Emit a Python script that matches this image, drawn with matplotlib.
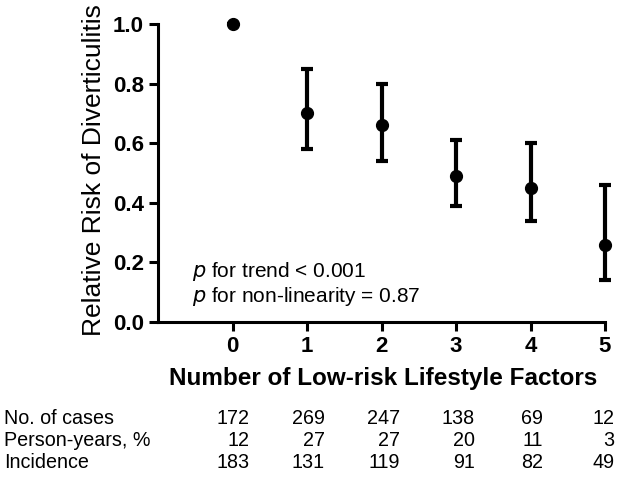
import numpy as np
import matplotlib
matplotlib.use("Agg")
import matplotlib.pyplot as plt
import matplotlib.transforms as mtransforms

plt.rcParams['font.family'] = ['Liberation Sans', 'DejaVu Sans']

# data
factors = [0, 1, 2, 3, 4, 5]
rr = [1.00, 0.70, 0.66, 0.49, 0.45, 0.26]
ci_low = [1.00, 0.58, 0.54, 0.39, 0.34, 0.14]
ci_high = [1.00, 0.85, 0.80, 0.61, 0.60, 0.46]

row_labels = ["No. of cases", "Person-years, %", "Incidence"]
cases = [172, 269, 247, 138, 69, 12]
person_years = [12, 27, 27, 20, 11, 3]
incidence = [183, 131, 119, 91, 82, 49]

# layout of the table under the plot
col_right = [0.23, 1.24, 2.25, 3.25, 4.17, 5.13]   # right edge of each column, data units
row_y = [1 - 419 / 480, 1 - 441 / 480, 1 - 463 / 480]  # figure fraction

fig = plt.figure(figsize=(6.21, 4.8), dpi=100)
ax = fig.add_axes([158 / 621, 1 - 322 / 480, 447 / 621, 298 / 480])

rr = np.array(rr)
yerr = np.array([rr - np.array(ci_low), np.array(ci_high) - rr])
ax.errorbar(factors, rr, yerr=yerr, fmt='o', color='black', markersize=8.5,
            elinewidth=3, capsize=4.5, capthick=3, clip_on=False, zorder=3)

ax.set_xlim(-1, 5)
ax.set_ylim(0, 1.0)
ax.set_xticks(factors)
ax.set_yticks([0.0, 0.2, 0.4, 0.6, 0.8, 1.0])
ax.set_yticklabels(["0.0", "0.2", "0.4", "0.6", "0.8", "1.0"])

for side in ['top', 'right']:
    ax.spines[side].set_visible(False)
for side in ['left', 'bottom']:
    ax.spines[side].set_linewidth(2.2)

ax.tick_params(axis='both', width=2.2, length=6.5, labelsize=16, pad=3.5)
for lab in ax.get_xticklabels() + ax.get_yticklabels():
    lab.set_fontweight('bold')

ax.set_xlabel("Number of Low-risk Lifestyle Factors", fontsize=17.5, fontweight='bold')
ax.xaxis.set_label_coords(0.503, -0.19)
ax.xaxis.label.set_va('center')
ax.set_ylabel("Relative Risk of Diverticulitis", fontsize=19)
ax.yaxis.set_label_coords(-0.143, 0.51)
ax.yaxis.label.set_va('center')

ax.text(-0.55, 0.171, r"$\it{p}$ for trend < 0.001", fontsize=15, va='center', ha='left')
ax.text(-0.55, 0.084, r"$\it{p}$ for non-linearity = 0.87", fontsize=15, va='center', ha='left')

# table below the axis
trans = mtransforms.blended_transform_factory(ax.transData, fig.transFigure)
for label, vals, y in zip(row_labels, [cases, person_years, incidence], row_y):
    fig.text(4 / 621, y, label, fontsize=14.2, va='center', ha='left')
    for xr, v in zip(col_right, vals):
        ax.text(xr, y, str(v), transform=trans, fontsize=14.2, va='center',
                ha='right', clip_on=False)

fig.savefig("out.png", dpi=100)
